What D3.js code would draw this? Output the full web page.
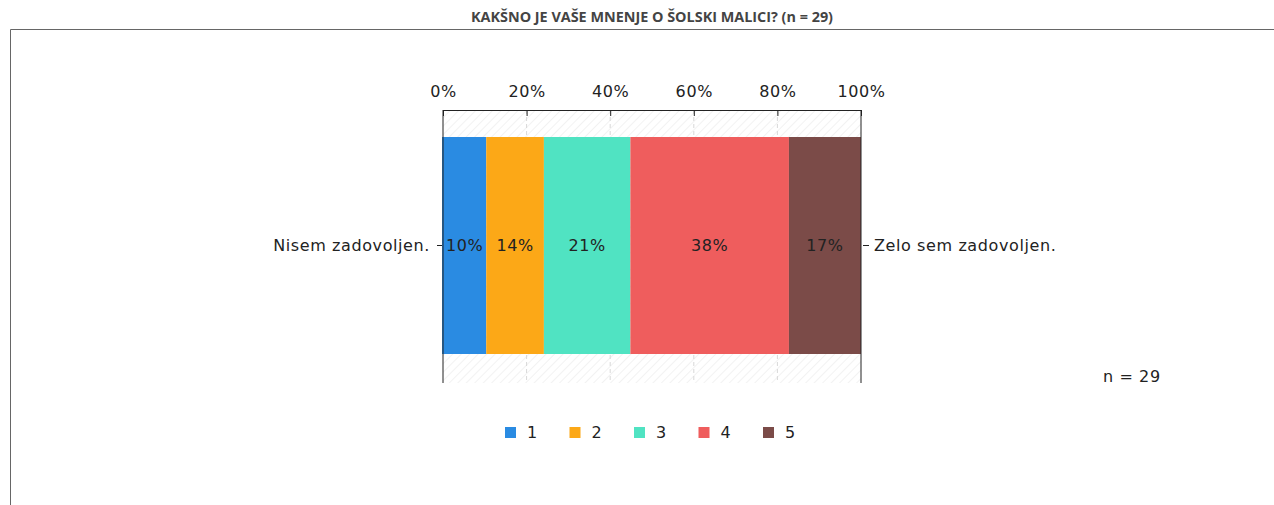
<!DOCTYPE html>
<html>
<head>
<meta charset="utf-8" />
<style>
body {
	margin: 0;
	background: #fff;
	font-family: "DejaVu Sans", Verdana, sans-serif;
}
svg {
	display: block;
}
.title {
	font-family: "Open Sans", sans-serif;
	font-weight: bold;
	font-size: 14.4px;
	fill: #444;
	text-anchor: middle;
}
.tick-label, .bar-label, .side-label, .legend-label {
	font-size: 16px;
	letter-spacing: 0.6px;
	fill: #222;
}
.tick-label, .bar-label {
	text-anchor: middle;
}
</style>
</head>
<body>
<script src="https://d3js.org/d3.v7.min.js"></script>
<script>
var categories = ["1", "2", "3", "4", "5"];
var counts = [3, 4, 6, 11, 5];
var colors = ["#2a8be2", "#fca817", "#50e3c2", "#ef5d5d", "#7b4b48"];
var tickValues = [0, 20, 40, 60, 80, 100];
var leftLabel = "Nisem zadovoljen.";
var rightLabel = "Zelo sem zadovoljen.";
var total = d3.sum(counts);

var width = 1274,
    height = 505;

var svg = d3.select("body").append("svg")
	.attr("width", width)
	.attr("height", height);

// pattern for the empty band
var defs = svg.append("defs");
var pat = defs.append("pattern")
	.attr("id", "hatch")
	.attr("patternUnits", "userSpaceOnUse")
	.attr("width", 6)
	.attr("height", 6)
	.attr("patternTransform", "rotate(45)");
pat.append("rect").attr("width", 6).attr("height", 6).attr("fill", "#fff");
pat.append("line")
	.attr("x1", 0).attr("y1", 0).attr("x2", 0).attr("y2", 6)
	.attr("stroke", "#e6e6e6")
	.attr("stroke-width", 1);

svg.append("text")
	.attr("class", "title")
	.attr("x", 652)
	.attr("y", 22)
	.text("KAKŠNO JE VAŠE MNENJE O ŠOLSKI MALICI? (n = " + total + ")");

// frame
svg.append("path")
	.attr("d", "M10.5," + height + "V29.5H" + width)
	.attr("fill", "none")
	.attr("stroke", "#666")
	.attr("stroke-width", 1);

var x = d3.scaleLinear().domain([0, 100]).range([443, 861]);
var axisTop = 110, axisBottom = 383, barTop = 137, barBottom = 354;

svg.append("rect")
	.attr("x", x(0))
	.attr("y", axisTop)
	.attr("width", x(100) - x(0))
	.attr("height", axisBottom - axisTop)
	.attr("fill", "url(#hatch)");

svg.selectAll(".grid")
	.data(tickValues.slice(1, -1))
	.enter().append("line")
	.attr("x1", function(d) { return x(d); })
	.attr("x2", function(d) { return x(d); })
	.attr("y1", axisTop)
	.attr("y2", axisBottom)
	.attr("stroke", "#d8d8d8")
	.attr("stroke-dasharray", "4,3");

// bars
var cum = 0;
var segs = counts.map(function(c, i) {
	var p = c / total * 100;
	var s = {x0: cum, x1: cum + p, p: p, i: i};
	cum += p;
	return s;
});

svg.selectAll(".bar")
	.data(segs)
	.enter().append("rect")
	.attr("x", function(d) { return x(d.x0) - (d.i == 0 ? 1 : 0); })
	.attr("y", barTop)
	.attr("width", function(d) { return x(d.x1) - x(d.x0) + (d.i == 0 ? 1 : 0); })
	.attr("height", barBottom - barTop)
	.attr("fill", function(d) { return colors[d.i]; });

svg.selectAll(".bar-label")
	.data(segs)
	.enter().append("text")
	.attr("class", "bar-label")
	.attr("x", function(d) { return (x(d.x0) + x(d.x1)) / 2; })
	.attr("y", 251)
	.text(function(d) { return Math.round(d.p) + "%"; });

// top axis
var axis = d3.axisTop(x)
	.tickValues(tickValues)
	.tickSize(6)
	.tickFormat(function(d) { return d + "%"; });
var ag = svg.append("g")
	.attr("transform", "translate(0," + axisTop + ")")
	.call(axis);
ag.attr("font-family", null).attr("font-size", null);
ag.select(".domain").remove();
ag.selectAll(".tick line").attr("y2", 6).attr("stroke", "#222");
ag.selectAll(".tick text")
	.attr("class", "tick-label")
	.attr("fill", null)
	.attr("dy", null)
	.attr("y", -13);
ag.append("line")
	.attr("x1", x(0)).attr("x2", x(100))
	.attr("y1", 0.5).attr("y2", 0.5)
	.attr("stroke", "#222");

// side lines
[0, 100].forEach(function(v) {
	svg.append("line")
		.attr("x1", x(v)).attr("x2", x(v))
		.attr("y1", axisTop).attr("y2", axisBottom)
		.attr("stroke", "#222");
});

// category labels
svg.append("line")
	.attr("x1", 437).attr("x2", 442)
	.attr("y1", 245.5).attr("y2", 245.5)
	.attr("stroke", "#222");
svg.append("text")
	.attr("class", "side-label")
	.attr("x", 430)
	.attr("y", 251)
	.attr("text-anchor", "end")
	.text(leftLabel);
svg.append("line")
	.attr("x1", 863).attr("x2", 869)
	.attr("y1", 245.5).attr("y2", 245.5)
	.attr("stroke", "#222");
svg.append("text")
	.attr("class", "side-label")
	.attr("x", 874)
	.attr("y", 251)
	.text(rightLabel);

svg.append("text")
	.attr("class", "side-label")
	.attr("x", 1103)
	.attr("y", 382)
	.text("n = " + total);

// legend
var lg = svg.selectAll(".legend")
	.data(categories)
	.enter().append("g")
	.attr("transform", function(d, i) { return "translate(" + (505 + i * 64.5) + ",427)"; });
lg.append("rect")
	.attr("width", 11)
	.attr("height", 11)
	.attr("fill", function(d, i) { return colors[i]; });
lg.append("text")
	.attr("class", "legend-label")
	.attr("x", 22)
	.attr("y", 11)
	.text(function(d) { return d; });
</script>
</body>
</html>
